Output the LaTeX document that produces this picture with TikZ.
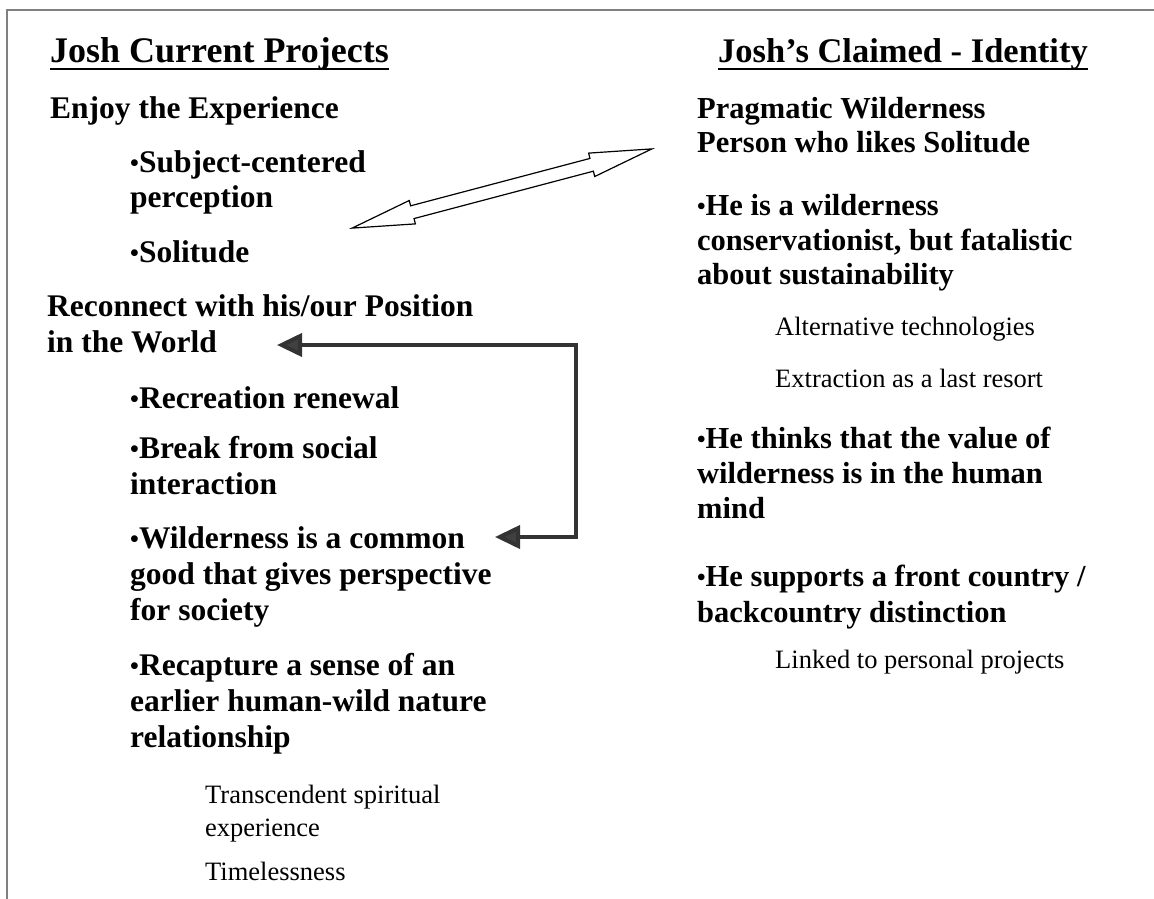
\documentclass[tikz,border=0pt]{standalone}
\usepackage{fontspec}
\usepackage{graphicx}
\setmainfont{Liberation Serif}
\usetikzlibrary{shapes.arrows,arrows.meta}
\newcommand\mybul{\raisebox{0.02em}{\scalebox{0.8}{•}}}
\begin{document}
\begin{tikzpicture}[x=1pt,y=-1pt,
  hdl/.style={anchor=base west, inner sep=0pt, font=\fontsize{36}{40}\selectfont\bfseries},
  hdr/.style={anchor=base west, inner sep=0pt, font=\fontsize{34.5}{40}\selectfont\bfseries},
  bdl/.style={anchor=base west, inner sep=0pt, font=\fontsize{31.5}{36}\selectfont\bfseries},
  bdr/.style={anchor=base west, inner sep=0pt, font=\fontsize{30.5}{36}\selectfont\bfseries},
  rg/.style={anchor=base west, inner sep=0pt, font=\fontsize{26.5}{30}\selectfont},
  frame/.style={draw=black!50, line width=1.3pt},
  uline/.style={draw=black, line width=2pt},
  elbow/.style={draw=black!80, line width=4pt, {Triangle[length=25pt,width=23pt,fill=black!75]}-{Triangle[length=25pt,width=23pt,fill=black!75]}},
  blockarrow/.style={double arrow, draw=black, fill=white, line width=1.2pt, inner xsep=0pt, inner ysep=6pt,
     double arrow head extend=5.5pt, double arrow tip angle=22}
]
\useasboundingbox (0,0) rectangle (1154,899);
\fill[white] (0,0) rectangle (1154,899);
% frame
\coordinate (fa) at (7,899);
\coordinate (fb) at (7,10);
\coordinate (fc) at (1154,10);
\draw[frame] (fa) -- (fb) -- (fc);

% left column
\node[hdl] (t1) at (50,63) {Josh Current Projects};
\draw[uline] ([yshift=-6pt]t1.base west) -- ([yshift=-6pt]t1.base east);
\node[bdl] (l1) at (50,118) {Enjoy the Experience};
\node[bdl] (l2) at (130,172) {\mybul Subject-centered};
\node[bdl] (l3) at (130,207) {perception};
\node[bdl] (l4) at (130,262) {\mybul Solitude};
\node[bdl] (l5) at (47,316) {Reconnect with his/our Position};
\node[bdl] (l6) at (47,352) {in the World};
\node[bdl] (l7) at (130,408) {\mybul Recreation renewal};
\node[bdl] (l8) at (130,458) {\mybul Break from social};
\node[bdl] (l9) at (130,494) {interaction};
\node[bdl] (l10) at (130,548) {\mybul Wilderness is a common};
\node[bdl] (l11) at (130,584) {good that gives perspective};
\node[bdl] (l12) at (130,620) {for society};
\node[bdl] (l13) at (130,675) {\mybul Recapture a sense of an};
\node[bdl] (l14) at (130,711) {earlier human-wild nature};
\node[bdl] (l15) at (130,747) {relationship};
\node[rg] (l16) at (205,803) {Transcendent spiritual};
\node[rg] (l17) at (205,836) {experience};
\node[rg] (l18) at (205,880) {Timelessness};

% right column
\node[hdr] (t2) at (718,63) {Josh’s Claimed - Identity};
\draw[uline] ([yshift=-6pt]t2.base west) -- ([yshift=-6pt]t2.base east);
\node[bdr] (r1) at (697,118) {Pragmatic Wilderness};
\node[bdr] (r2) at (697,152) {Person who likes Solitude};
\node[bdr] (r3) at (697,215) {\mybul He is a wilderness};
\node[bdr] (r4) at (697,250) {conservationist, but fatalistic};
\node[bdr] (r5) at (697,284) {about sustainability};
\node[rg] (r6) at (775,335) {Alternative technologies};
\node[rg] (r7) at (775,387) {Extraction as a last resort};
\node[bdr] (r8) at (697,448) {\mybul He thinks that the value of};
\node[bdr] (r9) at (697,483) {wilderness is in the human};
\node[bdr] (r10) at (697,518) {mind};
\node[bdr] (r11) at (697,586) {\mybul He supports a front country /};
\node[bdr] (r12) at (697,622) {backcountry distinction};
\node[rg] (r13) at (775,668) {Linked to personal projects};

% connectors
\node[blockarrow, minimum height=310pt, rotate=14.8] (da) at (502,188.5) {};
\coordinate (e1) at (277,345);
\coordinate (e2) at (495,537);
\coordinate (ec) at (576,345);
\draw[elbow] (e1) -- (ec) |- (e2);
\end{tikzpicture}
\end{document}
